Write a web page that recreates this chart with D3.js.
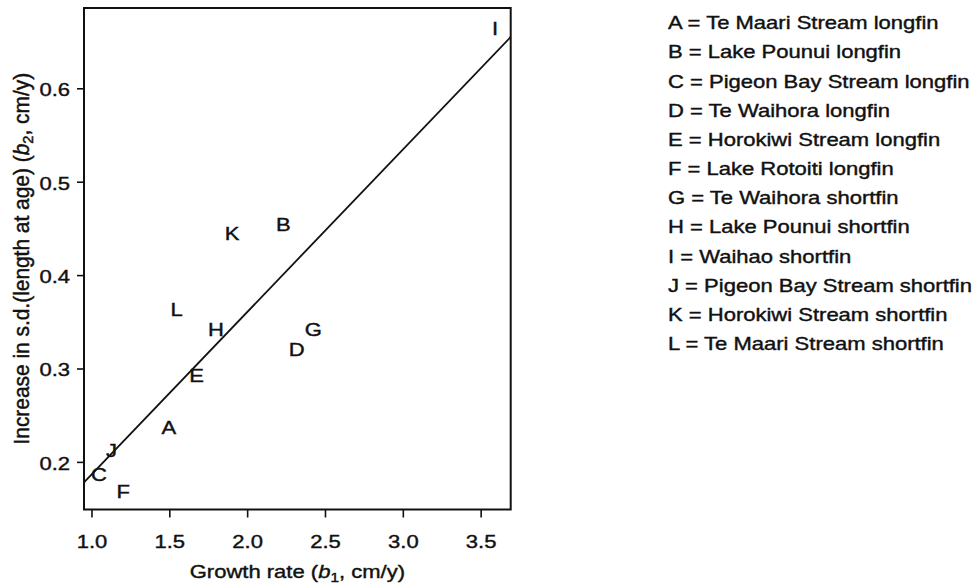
<!DOCTYPE html>
<html>
<head>
<meta charset="utf-8">
<script src="https://cdn.jsdelivr.net/npm/d3@7"></script>
<style>
  body { margin: 0; background: #fff; }
  text { font-family: "Liberation Sans", Arial, Helvetica, sans-serif; fill: #111; stroke: #111; stroke-width: 0.4px; }
</style>
</head>
<body>
<div id="chart"></div>
<script>
// site codes
const codes = ['A', 'B', 'C', 'D', 'E', 'F', 'G', 'H', 'I', 'J', 'K', 'L']
const growthRate = [1.497, 2.232, 1.048, 2.318, 1.675, 1.204, 2.425, 1.80, 3.593, 1.129, 1.904, 1.547]
const sdIncrease = [0.2375, 0.454, 0.187, 0.320, 0.293, 0.168, 0.342, 0.342, 0.664, 0.2125, 0.445, 0.363]
const siteNames = [
  'Te Maari Stream longfin',
  'Lake Pounui longfin',
  'Pigeon Bay Stream longfin',
  'Te Waihora longfin',
  'Horokiwi Stream longfin',
  'Lake Rotoiti longfin',
  'Te Waihora shortfin',
  'Lake Pounui shortfin',
  'Waihao shortfin',
  'Pigeon Bay Stream shortfin',
  'Horokiwi Stream shortfin',
  'Te Maari Stream shortfin'
]
const xTicks = [1.0, 1.5, 2.0, 2.5, 3.0, 3.5]
const yTicks = [0.2, 0.3, 0.4, 0.5, 0.6]
// fitted line, ends at the box edges
const fitX = [0.952, 3.693]
const fitY = [0.178, 0.655]

const width = 974
const height = 586
const margin = { top: 8, left: 84, right: 463.3, bottom: 76.5 }
const plotW = width - margin.left - margin.right
const plotH = height - margin.top - margin.bottom
const fontSize = 18.5
// the scan is stretched sideways, so every text gets this squeeze
const SX = 1.19

const svg = d3
  .select('#chart')
  .append('svg')
  .attr('width', width)
  .attr('height', height)

const g = svg
  .append('g')
  .attr('transform', 'translate(' + margin.left + ',' + margin.top + ')')

const xPositionScale = d3.scaleLinear().domain([0.952, 3.693]).range([0, plotW])
const yPositionScale = d3.scaleLinear().domain([0.149, 0.686]).range([plotH, 0])

// axes
const xAxis = d3
  .axisBottom(xPositionScale)
  .tickValues(xTicks)
  .tickSize(8)
  .tickFormat(d3.format('.1f'))
g.append('g')
  .attr('class', 'axis x-axis')
  .attr('transform', 'translate(0,' + plotH + ')')
  .call(xAxis)

const yAxis = d3
  .axisLeft(yPositionScale)
  .tickValues(yTicks)
  .tickSize(7)
  .tickFormat(d3.format('.1f'))
g.append('g')
  .attr('class', 'axis y-axis')
  .call(yAxis)

g.selectAll('.axis .domain').remove()
g.selectAll('.axis line').attr('stroke', '#111').attr('stroke-width', 1.6)
g.selectAll('.axis text')
  .attr('font-size', fontSize)
  .attr('font-family', null)
  .attr('fill', '#111')
  .attr('x', 0)
  .attr('y', 0)
  .attr('dy', null)
g.selectAll('.x-axis text').attr('transform', 'translate(0,38) scale(' + SX + ',1)')
g.selectAll('.y-axis text').attr('transform', 'translate(-14,7.5) scale(' + SX + ',1)')

// box
g.append('rect')
  .attr('width', plotW)
  .attr('height', plotH)
  .attr('fill', 'none')
  .attr('stroke', '#111')
  .attr('stroke-width', 2)

// fitted line
const line = d3
  .line()
  .x(d => xPositionScale(d[0]))
  .y(d => yPositionScale(d[1]))
g.append('path')
  .datum(d3.zip(fitX, fitY))
  .attr('d', line)
  .attr('fill', 'none')
  .attr('stroke', '#111')
  .attr('stroke-width', 1.8)

// letters as the points
g.selectAll('.site-code')
  .data(codes)
  .enter()
  .append('text')
  .attr('class', 'site-code')
  .attr('font-size', fontSize)
  .attr('text-anchor', 'middle')
  .attr('dy', '0.36em')
  .attr('transform', (d, i) =>
    'translate(' + xPositionScale(growthRate[i]) + ',' + yPositionScale(sdIncrease[i]) + ') scale(' + SX + ',1)')
  .text(d => d)

// axis titles
const xTitle = svg
  .append('text')
  .attr('font-size', fontSize)
  .attr('text-anchor', 'middle')
  .attr('transform', 'translate(' + (margin.left + plotW / 2) + ',578) scale(' + SX + ',1)')
xTitle.append('tspan').text('Growth rate (')
xTitle.append('tspan').attr('font-style', 'italic').text('b')
xTitle.append('tspan').attr('font-size', fontSize * 0.7).attr('dy', 4).text('1')
xTitle.append('tspan').attr('dy', -4).text(', cm/y)')

// rotated title: the scan stretches it along its length as well
const yTitle = svg
  .append('text')
  .attr('font-size', fontSize)
  .attr('text-anchor', 'middle')
  .attr('transform', 'translate(28.5,258.7) scale(' + SX + ',1.13) rotate(-90)')
yTitle.append('tspan').text('Increase in s.d.(length at age) (')
yTitle.append('tspan').attr('font-style', 'italic').text('b')
yTitle.append('tspan').attr('font-size', fontSize * 0.7).attr('dy', 4).text('2')
yTitle.append('tspan').attr('dy', -4).text(', cm/y)')

// key
svg
  .selectAll('.key')
  .data(codes)
  .enter()
  .append('text')
  .attr('class', 'key')
  .attr('font-size', fontSize)
  .attr('transform', (d, i) => 'translate(668,' + (29.3 + i * 29.15) + ') scale(' + SX + ',1)')
  .text((d, i) => d + ' = ' + siteNames[i])
</script>
</body>
</html>
